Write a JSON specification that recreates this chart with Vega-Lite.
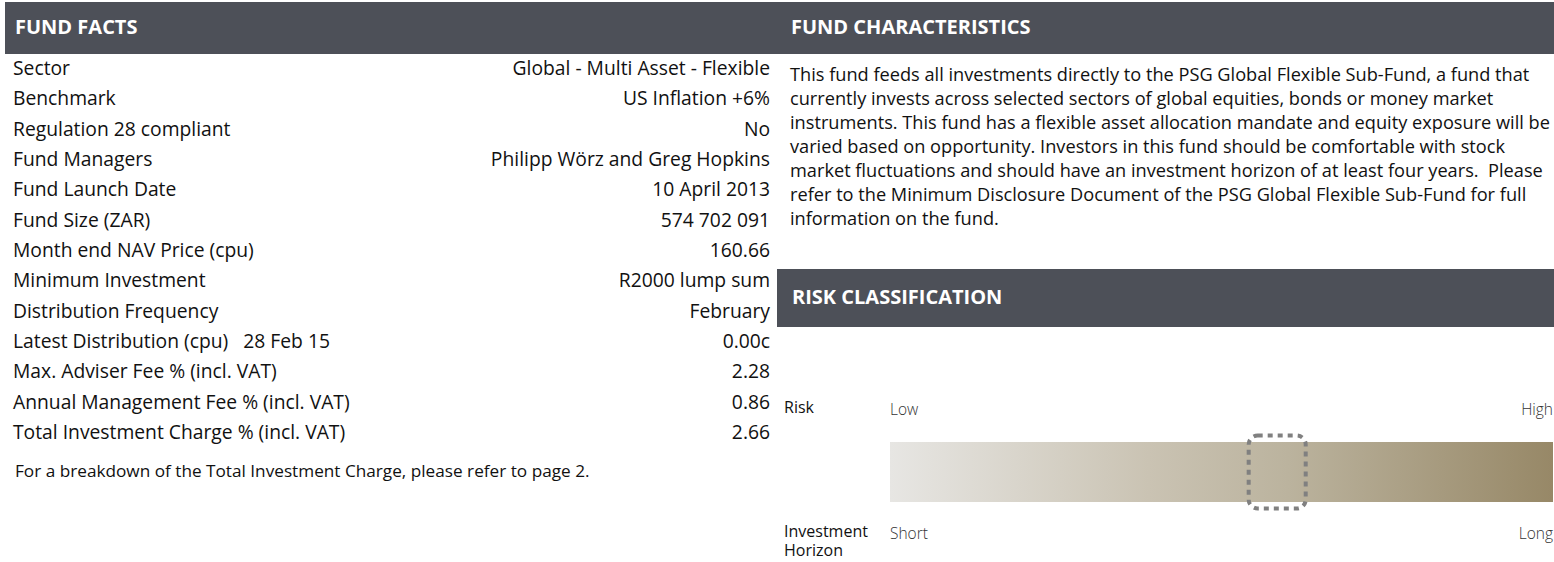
{
  "$schema": "https://vega.github.io/schema/vega-lite/v6.json",
  "background": "white",
  "padding": {"left": 5, "top": 2, "right": 0, "bottom": 0},
  "spacing": 0,
  "bounds": "full",
  "config": {
    "view": {"stroke": null},
    "font": "Open Sans",
    "text": {"font": "Open Sans", "color": "#111111"}
  },
  "hconcat": [
    {
      "spacing": 0,
      "bounds": "flush",
      "vconcat": [
        {
          "width": 772,
          "height": 52,
          "view": {"fill": "#4d5058", "stroke": null},
          "data": {"values": [{"title": "FUND FACTS"}]},
          "mark": {"type": "text", "align": "left", "baseline": "middle", "dx": 10, "fontSize": 20, "fontWeight": "bold", "color": "#ffffff"},
          "encoding": {"x": {"value": 0}, "text": {"field": "title", "type": "nominal"}}
        },
        {
          "width": 772,
          "height": 394,
          "data": {"values": [
            {"label": "Sector", "value": "Global - Multi Asset - Flexible"},
            {"label": "Benchmark", "value": "US Inflation +6%"},
            {"label": "Regulation 28 compliant", "value": "No"},
            {"label": "Fund Managers", "value": "Philipp Wörz and Greg Hopkins"},
            {"label": "Fund Launch Date", "value": "10 April 2013"},
            {"label": "Fund Size (ZAR)", "value": "574 702 091"},
            {"label": "Month end NAV Price (cpu)", "value": "160.66"},
            {"label": "Minimum Investment", "value": "R2000 lump sum"},
            {"label": "Distribution Frequency", "value": "February"},
            {"label": "Latest Distribution (cpu)\u00a0\u00a0\u00a028 Feb 15", "value": "0.00c"},
            {"label": "Max. Adviser Fee % (incl. VAT)", "value": "2.28"},
            {"label": "Annual Management Fee % (incl. VAT)", "value": "0.86"},
            {"label": "Total Investment Charge % (incl. VAT)", "value": "2.66"}
          ]},
          "encoding": {
            "y": {"field": "label", "type": "nominal", "sort": null, "axis": null,
                  "scale": {"type": "band", "paddingInner": 0, "paddingOuter": 0}}
          },
          "layer": [
            {
              "mark": {"type": "text", "align": "left", "baseline": "middle", "dx": 8, "fontSize": 19.3},
              "encoding": {"x": {"value": 0}, "text": {"field": "label", "type": "nominal"}}
            },
            {
              "mark": {"type": "text", "align": "right", "baseline": "middle", "dx": -7, "fontSize": 19.3},
              "encoding": {"x": {"value": "width"}, "text": {"field": "value", "type": "nominal"}}
            }
          ]
        },
        {
          "width": 772,
          "height": 48,
          "data": {"values": [{"note": "For a breakdown of the Total Investment Charge, please refer to page 2."}]},
          "mark": {"type": "text", "align": "left", "baseline": "middle", "dx": 10, "fontSize": 17.2},
          "encoding": {"x": {"value": 0}, "text": {"field": "note", "type": "nominal"}}
        }
      ]
    },
    {
      "spacing": 0,
      "bounds": "flush",
      "vconcat": [
        {
          "width": 777,
          "height": 52,
          "view": {"fill": "#4d5058", "stroke": null},
          "data": {"values": [{"title": "FUND CHARACTERISTICS"}]},
          "mark": {"type": "text", "align": "left", "baseline": "middle", "dx": 14, "fontSize": 20, "fontWeight": "bold", "color": "#ffffff"},
          "encoding": {"x": {"value": 0}, "text": {"field": "title", "type": "nominal"}}
        },
        {
          "width": 777,
          "height": 215,
          "data": {"values": [
            {"n": 1, "line": "This fund feeds all investments directly to the PSG Global Flexible Sub-Fund, a fund that"},
            {"n": 2, "line": "currently invests across selected sectors of global equities, bonds or money market"},
            {"n": 3, "line": "instruments. This fund has a flexible asset allocation mandate and equity exposure will be"},
            {"n": 4, "line": "varied based on opportunity. Investors in this fund should be comfortable with stock"},
            {"n": 5, "line": "market fluctuations and should have an investment horizon of at least four years.\u00a0 Please"},
            {"n": 6, "line": "refer to the Minimum Disclosure Document of the PSG Global Flexible Sub-Fund for full"},
            {"n": 7, "line": "information on the fund."}
          ]},
          "mark": {"type": "text", "align": "left", "baseline": "middle", "dx": 13, "fontSize": 18.2},
          "encoding": {
            "x": {"value": 0},
            "y": {"field": "n", "type": "ordinal", "axis": null,
                  "scale": {"type": "band", "range": [10, 178], "paddingInner": 0, "paddingOuter": 0}},
            "text": {"field": "line", "type": "nominal"}
          }
        },
        {
          "width": 777,
          "height": 58,
          "view": {"fill": "#4d5058", "stroke": null},
          "data": {"values": [{"title": "RISK CLASSIFICATION"}]},
          "mark": {"type": "text", "align": "left", "baseline": "middle", "dx": 15, "fontSize": 20, "fontWeight": "bold", "color": "#ffffff"},
          "encoding": {"x": {"value": 0}, "text": {"field": "title", "type": "nominal"}}
        },
        {
          "width": 777,
          "height": 235,
          "layer": [
            {
              "data": {"values": [{"lane": "Scale", "from": 0, "to": 1}]},
              "mark": {"type": "rect",
                       "color": {"gradient": "linear", "x1": 0, "y1": 0, "x2": 1, "y2": 0,
                                 "stops": [{"offset": 0, "color": "#e7e6e3"}, {"offset": 0.39, "color": "#cac3b3"}, {"offset": 0.6, "color": "#bbb39e"}, {"offset": 1, "color": "#978867"}]}},
              "encoding": {
                "x": {"field": "from", "type": "quantitative", "axis": null, "scale": {"domain": [0, 1], "range": [113, 776], "zero": false, "nice": false}},
                "x2": {"field": "to"},
                "y": {"field": "lane", "type": "nominal", "axis": null,
                      "scale": {"type": "band", "domain": ["Risk", "Scale", "Investment Horizon"], "range": [52, 238], "paddingInner": 0.032, "paddingOuter": 0.016}}
              }
            },
            {
              "data": {"values": [{"lane": "Scale", "from": 0.541, "to": 0.627}]},
              "mark": {"type": "rect", "height": 73, "fill": null, "fillOpacity": 0, "stroke": "#808080", "strokeWidth": 4, "strokeDash": [5, 5], "cornerRadius": 9},
              "encoding": {
                "x": {"field": "from", "type": "quantitative"},
                "x2": {"field": "to"},
                "y": {"field": "lane", "type": "nominal"}
              }
            },
            {
              "data": {"values": [
                {"lane": "Risk", "name": "Risk", "left": "Low", "right": "High"},
                {"lane": "Investment Horizon", "name": "Investment\nHorizon", "left": "Short", "right": "Long"}
              ]},
              "layer": [
                {
                  "mark": {"type": "text", "align": "left", "baseline": "top", "dy": -10, "dx": 7, "fontSize": 16, "lineBreak": "\n", "lineHeight": 19, "color": "#111111"},
                  "encoding": {"x": {"value": 0}, "y": {"field": "lane", "type": "nominal"}, "text": {"field": "name", "type": "nominal"}}
                },
                {
                  "mark": {"type": "text", "align": "left", "baseline": "middle", "fontSize": 15.5, "fontWeight": 300, "color": "#333333"},
                  "encoding": {"x": {"datum": 0}, "y": {"field": "lane", "type": "nominal"}, "text": {"field": "left", "type": "nominal"}}
                },
                {
                  "mark": {"type": "text", "align": "right", "baseline": "middle", "fontSize": 15.5, "fontWeight": 300, "color": "#333333"},
                  "encoding": {"x": {"datum": 1}, "y": {"field": "lane", "type": "nominal"}, "text": {"field": "right", "type": "nominal"}}
                }
              ]
            }
          ]
        }
      ]
    }
  ]
}
